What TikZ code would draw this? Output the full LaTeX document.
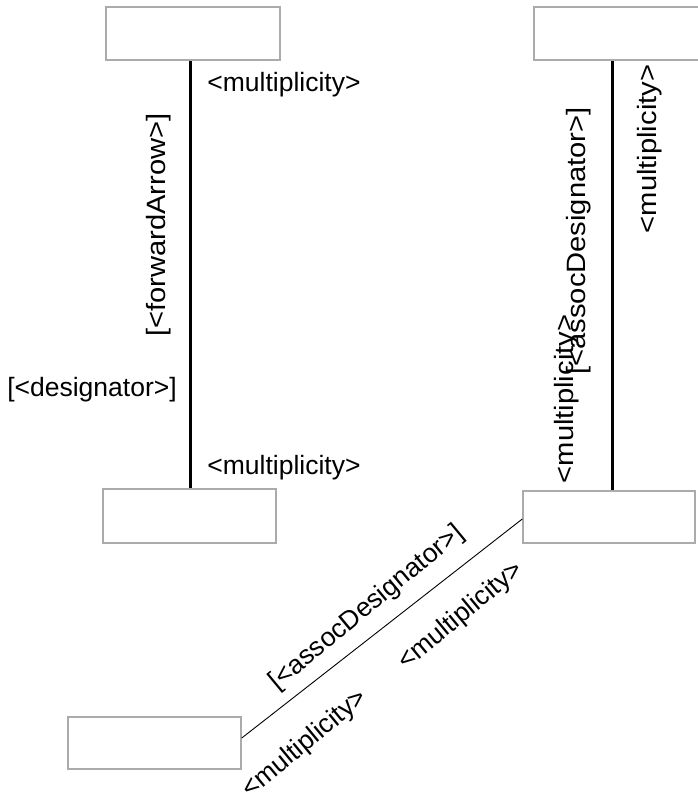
\documentclass[tikz,border=0pt]{standalone}
\usepackage{fontspec}
\setmainfont{Liberation Sans}
\begin{document}
\begin{tikzpicture}[x=1pt,y=-1pt,
  box/.style={draw=black!33,line width=1.5pt,fill=white,inner sep=0pt},
  assoc/.style={line width=3pt},
  link/.style={line width=0.9pt},
  lbl/.style={inner sep=0pt,font=\fontsize{26.5}{30}\selectfont},
  vlbl/.style={lbl,rotate=90,xscale=1.1}]
\useasboundingbox (0,0) rectangle (698,798);

% classes
\node[box,minimum width=174pt,minimum height=53pt] (a) at (193,33.5) {};
\node[box,minimum width=174pt,minimum height=53pt] (b) at (621,33.5) {};
\node[box,minimum width=173pt,minimum height=54pt] (c) at (189.5,516) {};
\node[box,minimum width=172pt,minimum height=52pt] (d) at (609,517) {};
\node[box,minimum width=173pt,minimum height=52pt] (e) at (154.5,743) {};

% x positions of the two vertical associations
\coordinate (acx) at (190,0);
\coordinate (bdx) at (612,0);

\draw[assoc] (a.south -| acx) -- (c.north -| acx);
\draw[assoc] (b.south -| bdx) -- (d.north -| bdx);
\draw[link] ([yshift=5pt]e.east) -- ([yshift=-2pt]d.west);

% labels of the left association
\node[lbl,anchor=base] (m1) at (284,91) {<multiplicity>};
\node[vlbl] (fa) at (159,225) {[<forwardArrow>]};
\node[lbl] (dg) at (92,390) {[<designator>]};
\node[lbl,anchor=base] (m2) at (284,474) {<multiplicity>};

% labels of the right association
\node[vlbl] (ad1) at (579,241) {[<assocDesignator>]};
\node[vlbl] (m3) at (650,149) {<multiplicity>};
\node[vlbl] (m4) at (567,399) {<multiplicity>};

% labels of the diagonal association
\node[lbl,rotate=39.6] (ad2) at (367,608) {[<assocDesignator>]};
\node[lbl,rotate=39.6] (m5) at (461,616) {<multiplicity>};
\node[lbl,rotate=39.6] (m6) at (305,744) {<multiplicity>};
\end{tikzpicture}
\end{document}
